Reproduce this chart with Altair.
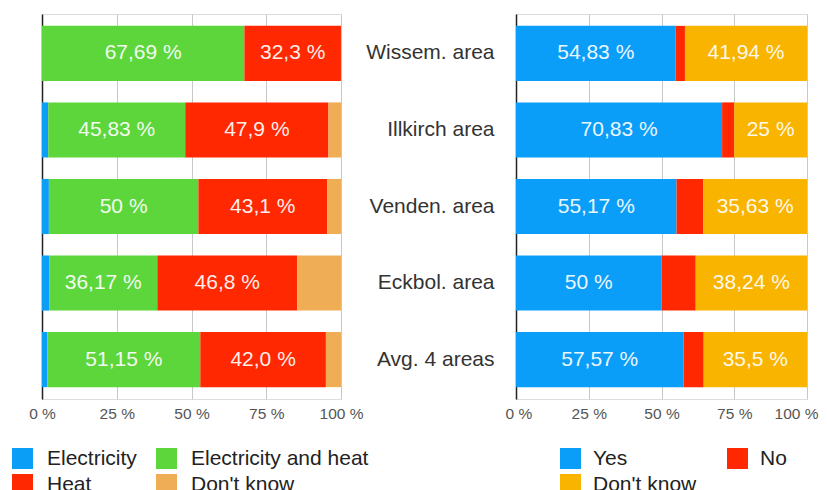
import altair as alt
import pandas as pd

areas = ["Wissem. area", "Illkirch area", "Venden. area", "Eckbol. area", "Avg. 4 areas"]

# Left panel: type of energy use
use_categories = ["Electricity", "Electricity and heat", "Heat", "Don't know"]
use_colors = ["#0a9ef6", "#5cd63a", "#ff2800", "#efad55"]
use_electricity = [0.0, 2.08, 2.3, 2.4, 1.8]
use_elec_heat = [67.69, 45.83, 50.0, 36.17, 51.15]
use_heat = [32.3, 47.9, 43.1, 46.8, 42.0]
use_dont_know = [0.0, 4.19, 4.6, 14.63, 5.05]
use_labels_elec_heat = ["67,69 %", "45,83 %", "50 %", "36,17 %", "51,15 %"]
use_labels_heat = ["32,3 %", "47,9 %", "43,1 %", "46,8 %", "42,0 %"]

# Right panel: yes / no answers
ans_categories = ["Yes", "No", "Don't know"]
ans_colors = ["#0a9ef8", "#ff2800", "#f9b400"]
ans_yes = [54.83, 70.83, 55.17, 50.0, 57.57]
ans_no = [3.23, 4.17, 9.2, 11.76, 6.93]
ans_dont_know = [41.94, 25.0, 35.63, 38.24, 35.5]
ans_labels_yes = ["54,83 %", "70,83 %", "55,17 %", "50 %", "57,57 %"]
ans_labels_dont_know = ["41,94 %", "25 %", "35,63 %", "38,24 %", "35,5 %"]

tick_values = [0, 25, 50, 75, 100]

FONT = "Liberation Sans"


def build_rows(series):
    rows = []
    for order, (cat, values, labels) in enumerate(series):
        for i, a in enumerate(areas):
            rows.append({"area": a, "cat": cat, "order": order,
                         "value": values[i], "label": labels[i] if labels else ""})
    return pd.DataFrame(rows)


use_df = build_rows([
    ("Electricity", use_electricity, None),
    ("Electricity and heat", use_elec_heat, use_labels_elec_heat),
    ("Heat", use_heat, use_labels_heat),
    ("Don't know", use_dont_know, None),
])
ans_df = build_rows([
    ("Yes", ans_yes, ans_labels_yes),
    ("No", ans_no, None),
    ("Don't know", ans_dont_know, ans_labels_dont_know),
])


def panel(df, cats, colors, width, show_labels, legend_x, col_pad, label_offset, flush):
    base = alt.Chart(df).transform_stack(
        stack="value", groupby=["area"], as_=["x0", "x1"],
        sort=[alt.SortField("order", order="ascending")],
    ).transform_calculate(mid="(datum.x0 + datum.x1) / 2")

    if show_labels:
        yaxis = alt.Axis(title=None, ticks=False, domain=True, domainColor="#222222",
                         domainWidth=1.5, labelFontSize=21, labelColor="#333333",
                         labelPadding=22, labelFont=FONT, grid=False)
    else:
        yaxis = alt.Axis(title=None, ticks=False, labels=False, domain=True,
                         domainColor="#222222", domainWidth=1.5, grid=False)

    y = alt.Y("area:N", sort=areas,
              scale=alt.Scale(paddingInner=0.28, paddingOuter=0.155), axis=yaxis)

    axis_kw = dict(title=None, values=tick_values, labelExpr="datum.value + ' %'",
                   grid=True, gridColor="#c8c8c8", domain=False, ticks=False,
                   labelPadding=7, labelFontSize=15.5, labelColor="#555555",
                   labelFont=FONT)
    if flush:
        axis_kw.update(labelFlush=True, labelFlushOffset=11)
    else:
        axis_kw.update(labelFlush=False)
    xaxis = alt.Axis(**axis_kw)

    bars = base.mark_bar().encode(
        x=alt.X("x0:Q", scale=alt.Scale(domain=[0, 100], nice=False), axis=xaxis),
        x2="x1:Q",
        y=y,
        color=alt.Color("cat:N", scale=alt.Scale(domain=cats, range=colors),
                        legend=alt.Legend(title=None, orient="none", legendX=legend_x,
                                          legendY=434, columns=2, direction="horizontal",
                                          symbolType="square",
                                          symbolSize=441, symbolStrokeWidth=0,
                                          labelFontSize=21, labelFont=FONT,
                                          labelColor="#222222", labelOffset=label_offset,
                                          rowPadding=4, columnPadding=col_pad,
                                          padding=0, labelLimit=400)),
    )
    text = base.transform_filter("datum.label != ''").mark_text(
        fontSize=21, font=FONT, color="#ffffff", opacity=0.92,
        align="center", baseline="middle",
    ).encode(
        x=alt.X("mid:Q", scale=alt.Scale(domain=[0, 100], nice=False)),
        y=alt.Y("area:N", sort=areas),
        text="label:N",
    )
    return alt.layer(bars, text).properties(width=width, height=385)


left = panel(use_df, use_categories, use_colors, 299, False, -30, 19, 14, False)
right = panel(ans_df, ans_categories, ans_colors, 291, True, 44, 30, 12, True)

chart = alt.hconcat(left, right, spacing=175, bounds="flush").resolve_scale(
    color="independent", x="independent", y="independent"
).properties(
    padding={"left": 3, "top": 5, "right": 0, "bottom": 0}
).configure_view(stroke=None).configure(font=FONT)

chart.save("out.html", embed_options={"renderer": "svg", "actions": False})
